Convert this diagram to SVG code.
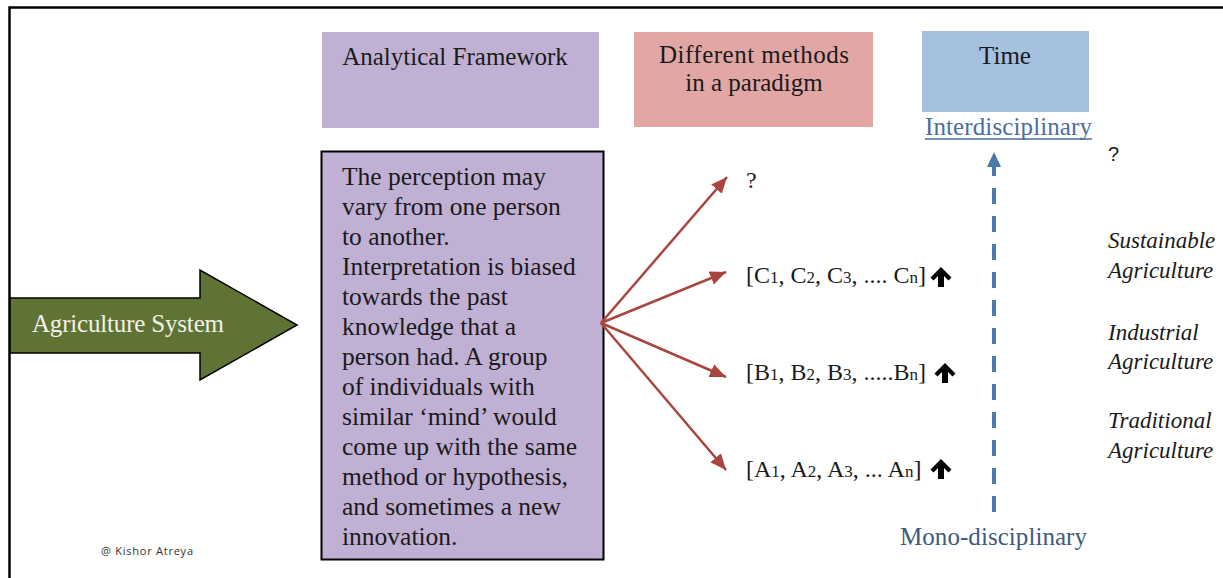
<svg xmlns="http://www.w3.org/2000/svg" width="1223" height="578" viewBox="0 0 1223 578">
<style>
.serif{font-family:"Liberation Serif","Times New Roman",serif;font-size:25px;fill:#1a1a1a}
.body{font-size:25.5px}
.it{font-family:"Liberation Serif","Times New Roman",serif;font-style:italic;font-size:23px;fill:#1a1a1a}
.cam{font-family:"Liberation Serif","Times New Roman",serif;font-size:24px;fill:#1a1a1a}
.sub{font-size:17px}
.red{stroke:#A8463F;stroke-width:2.5;fill:none}
</style>
<defs>
<marker id="ra" markerUnits="userSpaceOnUse" markerWidth="18" markerHeight="16" refX="16" refY="7" orient="auto">
<path d="M0,0 L16,7 L0,14 Z" fill="#A8463F"/>
</marker>
<path id="up" d="M0,0 L10.5,10.5 L7.5,13.5 L3,9 L3,20 L-3,20 L-3,9 L-7.5,13.5 L-10.5,10.5 Z" fill="#000"/>
</defs>
<rect width="1223" height="578" fill="#fff"/>
<g id="frame" stroke="#000" stroke-width="2.5" fill="none">
<path d="M9.5,578 V7.5 H1223"/>
</g>
<g id="agri">
<path d="M10,298 H200 V270 L297,325 L200,380 V353 H10 Z" fill="#5F7335" stroke="#000" stroke-width="1.5"/>
<text x="32" y="332" class="serif" style="fill:#F2F2E8" textLength="192">Agriculture System</text>
</g>
<g id="analytical">
<rect x="322" y="32" width="277" height="96" fill="#C0B0D4"/>
<text x="455" y="65" class="serif" text-anchor="middle">Analytical Framework</text>
</g>
<g id="methods">
<rect x="634" y="32" width="239" height="95" fill="#E2A7A5"/>
<text x="754" y="63" class="serif" text-anchor="middle" textLength="190">Different methods</text>
<text x="754" y="91" class="serif" text-anchor="middle">in a paradigm</text>
</g>
<g id="time">
<rect x="922" y="31" width="167" height="81" fill="#A6C1E0"/>
<text x="1005" y="64" class="serif" text-anchor="middle">Time</text>
</g>
<g id="perception">
<rect x="321.5" y="151.5" width="282" height="408" fill="#C0B0D4" stroke="#000" stroke-width="2"/>
<text class="serif body">
<tspan x="342" y="185">The perception may</tspan>
<tspan x="342" y="215">vary from one person</tspan>
<tspan x="342" y="245">to another.</tspan>
<tspan x="342" y="275">Interpretation is biased</tspan>
<tspan x="342" y="305">towards the past</tspan>
<tspan x="342" y="335">knowledge that a</tspan>
<tspan x="342" y="365">person had. A group</tspan>
<tspan x="342" y="395">of individuals with</tspan>
<tspan x="342" y="425">similar ‘mind’ would</tspan>
<tspan x="342" y="455">come up with the same</tspan>
<tspan x="342" y="485">method or hypothesis,</tspan>
<tspan x="342" y="515">and sometimes a new</tspan>
<tspan x="342" y="545">innovation.</tspan>
</text>
</g>
<g id="connectors">
<line class="red" x1="601" y1="323" x2="727" y2="177" marker-end="url(#ra)"/>
<line class="red" x1="601" y1="323" x2="726" y2="272" marker-end="url(#ra)"/>
<line class="red" x1="601" y1="323" x2="726" y2="377" marker-end="url(#ra)"/>
<line class="red" x1="601" y1="323" x2="726" y2="470" marker-end="url(#ra)"/>
<line x1="994" y1="512" x2="994" y2="166" stroke="#4A7AAB" stroke-width="4" stroke-dasharray="16 12"/>
<path d="M994,152 L987,167 L1001,167 Z" fill="#4A7AAB"/>
</g>
<g id="q1"><text x="746" y="188" class="cam">?</text></g>
<g id="c-methods">
<text x="746" y="283" class="cam">[C<tspan class="sub">1</tspan>, C<tspan class="sub">2</tspan>, C<tspan class="sub">3</tspan>, .... C<tspan class="sub">n</tspan>]</text>
<use href="#up" x="941" y="267"/>
</g>
<g id="b-methods">
<text x="746" y="380" class="cam">[B<tspan class="sub">1</tspan>, B<tspan class="sub">2</tspan>, B<tspan class="sub">3</tspan>, .....B<tspan class="sub">n</tspan>]</text>
<use href="#up" x="945" y="363"/>
</g>
<g id="a-methods">
<text x="746" y="477" class="cam">[A<tspan class="sub">1</tspan>, A<tspan class="sub">2</tspan>, A<tspan class="sub">3</tspan>, ... A<tspan class="sub">n</tspan>]</text>
<use href="#up" x="941" y="459"/>
</g>
<g id="inter">
<text x="925" y="135" class="serif" style="fill:#4C6E9C" textLength="167">Interdisciplinary</text>
<line x1="925" y1="139" x2="1092" y2="139" stroke="#4C6E9C" stroke-width="1.3"/>
</g>
<g id="q2"><text x="1108" y="161" style="font-family:'Liberation Sans',Arial,sans-serif;font-size:20px;fill:#1a1a1a">?</text></g>
<g id="mono">
<text x="900" y="545" class="serif" style="fill:#3E5A80" textLength="187">Mono-disciplinary</text>
</g>
<g id="sustainable">
<text class="it"><tspan x="1108" y="248">Sustainable</tspan><tspan x="1108" y="278">Agriculture</tspan></text>
</g>
<g id="industrial">
<text class="it"><tspan x="1108" y="340">Industrial</tspan><tspan x="1108" y="369">Agriculture</tspan></text>
</g>
<g id="traditional">
<text class="it"><tspan x="1108" y="428">Traditional</tspan><tspan x="1108" y="458">Agriculture</tspan></text>
</g>
<g id="credit">
<text x="101" y="555" style="font-family:'Open Sans','Liberation Sans',sans-serif;font-size:11px;fill:#333" textLength="92">@ Kishor Atreya</text>
</g>
</svg>
